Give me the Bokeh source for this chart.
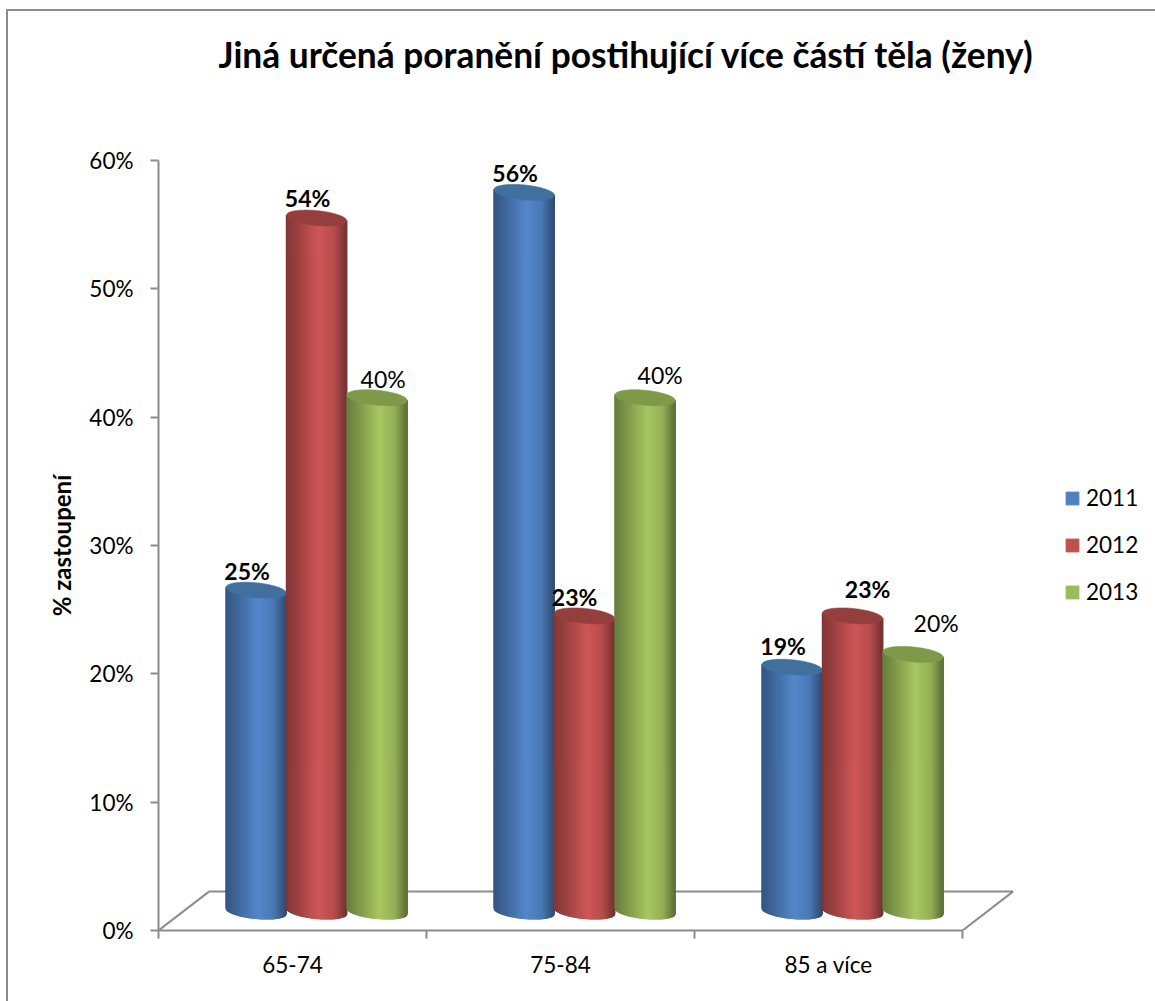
from bokeh.embed import file_html
from bokeh.resources import INLINE
from bokeh.plotting import figure
from bokeh.models import ColumnDataSource, FixedTicker, Legend, LegendItem, Range1d, Title
from bokeh.core.properties import value, field
import math

# Chart data
chart_title = "Jiná určená poranění postihující více částí těla (ženy)"
categories = ["65-74", "75-84", "85 a více"]
years = ["2011", "2012", "2013"]
share_2011 = [25, 56, 19]
share_2012 = [54, 23, 23]
share_2013 = [40, 40, 20]
series = [share_2011, share_2012, share_2013]

# Label styling per year and age group: weight and pixel nudge
label_weight = [["bold", "bold", "bold"], ["bold", "bold", "bold"], ["normal", "normal", "normal"]]
label_dx = [[-9, -9, -9], [-9, -10, 15], [6, 15, 23]]
label_dy = [[19, 19, 21], [20, 19, 27], [19, 23, 31]]

# Colours
legend_colors = ["#4F81BD", "#C0504D", "#9BBB59"]
bright_colors = [(84, 136, 204), (207, 87, 87), (167, 199, 97)]
top_colors = ["#41709F", "#943F3D", "#7E9A49"]
GRAY = "#8C8C8C"
FONT = "Lato"

# Geometry of the pseudo-3D scene, in axis units
BAR_W = 0.2257
DEPTH_X = 0.1884
DEPTH_Y = 3.03
GROUP_SHIFT = 0.09
RY = 0.58
TILT = 0.22
STRIPS = 60
SHADE = [(0.0, 0.62), (0.15, 0.72), (0.55, 1.0), (0.8, 0.88), (1.0, 0.56)]

W, H = 1155, 1001
LEFT, TOP, BOTTOM = 158, 160, 71

# Chart-area border on the top and left edges of the page
border_css = f""":host::before {{
  content: ""; position: absolute; left: 6px; top: 9px; right: 0; bottom: 0;
  border-left: 2px solid {GRAY}; border-top: 2px solid {GRAY};
  z-index: 10; pointer-events: none;
}}"""

p = figure(width=W, height=H, output_backend="svg", toolbar_location=None,
           x_range=Range1d(0, (W - LEFT) / 268), y_range=Range1d(0, 60),
           min_border_left=LEFT, min_border_right=0, min_border_top=TOP, min_border_bottom=BOTTOM,
           outline_line_color=None, background_fill_color="white", border_fill_color="white",
           stylesheets=[border_css])
p.grid.visible = False

# Title, lifted away from the plot area by a blank spacer below it
p.title.text = chart_title
p.title.text_font = FONT
p.title.text_font_style = "bold"
p.title.text_font_size = "35.3px"
p.title.text_color = "black"
p.title.align = "left"
p.title.offset = 60
p.title.standoff = 0
p.add_layout(Title(text=" ", text_font_size="13px", standoff=68), "above")

# Axes
xa = p.xaxis[0]
xa.ticker = FixedTicker(ticks=[0.5, 1.5, 2.5], minor_ticks=[0, 1, 2, 3])
xa.major_label_overrides = {0.5: categories[0], 1.5: categories[1], 2.5: categories[2]}
xa.bounds = (0, 3)
xa.major_tick_in = 0
xa.major_tick_out = 0
xa.minor_tick_in = 0
xa.minor_tick_out = 8
xa.minor_tick_line_color = GRAY
xa.minor_tick_line_width = 2
xa.axis_line_color = GRAY
xa.axis_line_width = 2
xa.major_label_text_font = FONT
xa.major_label_text_font_size = "22.5px"
xa.major_label_text_color = "black"
xa.major_label_standoff = 12

ya = p.yaxis[0]
ya.ticker = FixedTicker(ticks=[0, 10, 20, 30, 40, 50, 60], minor_ticks=[])
ya.major_label_overrides = {t: f"{t}%" for t in range(0, 70, 10)}
ya.major_tick_in = 0
ya.major_tick_out = 8
ya.major_tick_line_color = GRAY
ya.major_tick_line_width = 2
ya.axis_line_color = GRAY
ya.axis_line_width = 2
ya.major_label_text_font = FONT
ya.major_label_text_font_size = "22.5px"
ya.major_label_text_color = "black"
ya.major_label_standoff = 17
ya.axis_label = "% zastoupení"
ya.axis_label_text_font = FONT
ya.axis_label_text_font_style = "bold"
ya.axis_label_text_font_size = "24px"
ya.axis_label_text_color = "black"
ya.axis_label_standoff = 10

# Floor of the scene
p.multi_line(xs=[[0, DEPTH_X, 3 + DEPTH_X, 3]], ys=[[0, DEPTH_Y, DEPTH_Y, 0]],
             line_color=GRAY, line_width=2)


def shade(u):
    """Brightness of the cylinder wall at u in 0..1 across its width."""
    for (a, sa), (b, sb) in zip(SHADE, SHADE[1:]):
        if a <= u <= b:
            return sa + (sb - sa) * (u - a) / (b - a)
    return SHADE[-1][1]


def to_hex(rgb, k):
    return "#%02x%02x%02x" % tuple(min(255, int(round(c * k))) for c in rgb)


def edge(v, t, sign):
    """Height of a tilted ellipse rim around level v at t in -1..1."""
    return v - TILT * t + sign * RY * math.sqrt(max(0.0, 1 - t * t))


def center_x(g, s):
    return g + 0.5 + GROUP_SHIFT + (s - 1) * BAR_W


# Legend swatches: zero-area rectangles tucked behind the first group's cylinders
items = []
for s, (year, color) in enumerate(zip(years, legend_colors)):
    cx = center_x(0, s)
    r = p.quad(left=[cx], right=[cx], top=[DEPTH_Y], bottom=[DEPTH_Y],
               fill_color=color, line_color=color)
    items.append(LegendItem(label=year, renderers=[r]))

# Cylinders, left to right so each one overlaps its left neighbour
label_x, label_y, label_text, label_style, label_xo, label_yo = [], [], [], [], [], []
for g in range(len(categories)):
    for s, vals in enumerate(series):
        cx = center_x(g, s)
        base = DEPTH_Y / 2
        top = vals[g] + DEPTH_Y / 2
        sx, sy, sc = [], [], []
        for i in range(STRIPS):
            t0 = -1 + 2 * i / STRIPS
            t1 = -1 + 2 * (i + 1) / STRIPS
            x0 = cx + t0 * BAR_W / 2
            x1 = cx + t1 * BAR_W / 2
            sx.append([x0, x1, x1, x0])
            sy.append([edge(base, t0, -1), edge(base, t1, -1), edge(top, t1, 0), edge(top, t0, 0)])
            sc.append(to_hex(bright_colors[s], shade((i + 0.5) / STRIPS)))
        p.patches(sx, sy, fill_color=sc, line_color=sc, line_width=1.2, line_join="round")
        ts = [-1 + 2 * i / 60 for i in range(61)]
        rim_x = [cx + t * BAR_W / 2 for t in ts] + [cx + t * BAR_W / 2 for t in reversed(ts)]
        rim_y = [edge(top, t, 1) for t in ts] + [edge(top, t, -1) for t in reversed(ts)]
        p.patch(rim_x, rim_y, fill_color=top_colors[s], line_color=top_colors[s], line_width=0.6)
        label_x.append(cx)
        label_y.append(top)
        label_text.append(f"{vals[g]}%")
        label_style.append(label_weight[s][g])
        label_xo.append(label_dx[s][g])
        label_yo.append(-label_dy[s][g])

# Value labels
p.text(x="x", y="y", text="text", x_offset="xo", y_offset="yo",
       source=ColumnDataSource(dict(x=label_x, y=label_y, text=label_text, style=label_style,
                                    xo=label_xo, yo=label_yo)),
       text_font=value(FONT), text_font_size="23px", text_font_style=field("style"),
       text_color="black", text_align="center", text_baseline="middle")

# Legend
legend = Legend(items=items, location=(906, 325), margin=0, padding=0, spacing=20,
                glyph_width=16, glyph_height=16, label_standoff=6,
                label_text_font=FONT, label_text_font_size="22.5px", label_text_color="black",
                background_fill_alpha=0, border_line_color=None)
p.add_layout(legend, "center")

open("out.html", "w").write(file_html(p, INLINE))
